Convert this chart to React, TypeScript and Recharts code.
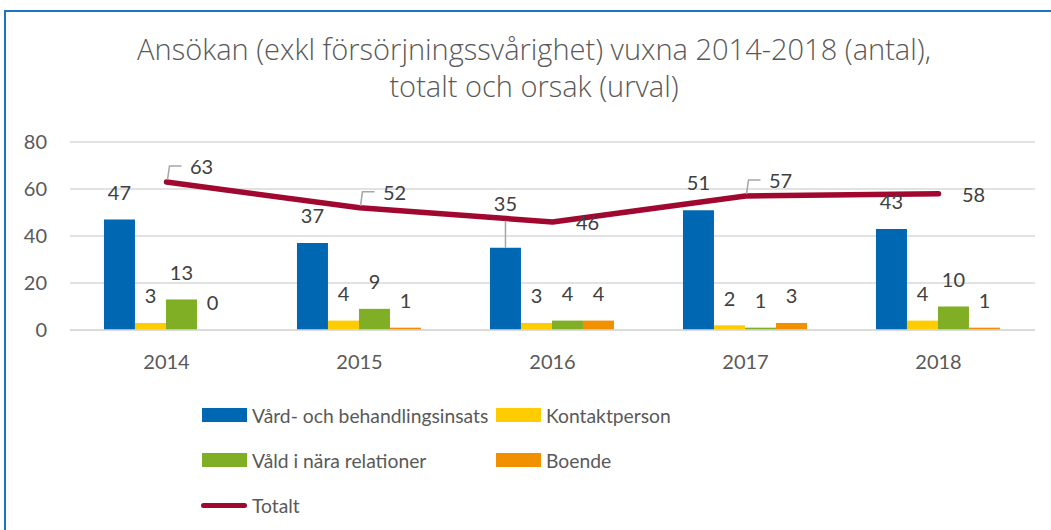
import React from 'react';
import { ComposedChart, Bar, Line, XAxis, YAxis, CartesianGrid, LabelList } from 'recharts';

// ---------- data ----------
const years = ['2014', '2015', '2016', '2017', '2018'];
const vardValues = [47, 37, 35, 51, 43];
const kontaktValues = [3, 4, 3, 2, 4];
const valdValues = [13, 9, 4, 1, 10];
const boendeValues = [0, 1, 4, 3, 1];
const totaltValues = [63, 52, 46, 57, 58];
const yTicks = [0, 20, 40, 60, 80];
const titleLines = [
  'Ansökan (exkl försörjningssvårighet) vuxna 2014-2018 (antal),',
  'totalt och orsak (urval)',
];
const seriesNames = {
  vard: 'Vård- och behandlingsinsats',
  kontakt: 'Kontaktperson',
  vald: 'Våld i nära relationer',
  boende: 'Boende',
  totalt: 'Totalt',
};

// ---------- styles ----------
const FONT = 'Lato, "Noto Sans", sans-serif';
const TITLE_FONT = '"Open Sans", "Noto Sans", sans-serif';
const COLORS = {
  vard: '#0067B2',
  kontakt: '#FFCC00',
  vald: '#80AF25',
  boende: '#F29100',
  totalt: '#A0082F',
};
const TEXT = '#595959';
const LABEL = '#404040';
const GRID = '#D9D9D9';
const LEADER = '#A6A6A6';

const data = years.map((year, i) => ({
  year,
  vard: vardValues[i],
  kontakt: kontaktValues[i],
  vald: valdValues[i],
  boende: boendeValues[i],
  totalt: totaltValues[i],
}));

// bar label: centered above bar; one label (2016 Vård) pulled up with leader line
const makeBarLabel = (key: string) => (props: any) => {
  const { x, y, width, value, index } = props;
  const cx = Number(x) + Number(width) / 2;
  const top = Number(y);
  const pulled = key === 'vard' && index === 2;
  const cy = top - 27 - (pulled ? 17 : 0);
  return (
    <g>
      {pulled && (
        <line x1={cx} y1={top} x2={cx} y2={cy + 17} stroke={LEADER} strokeWidth={1.5} />
      )}
      <text x={cx} y={cy} dy="0.36em" textAnchor="middle" fontFamily={FONT} fontSize={20} fill={LABEL}>
        {value}
      </text>
    </g>
  );
};

// line labels: to the right of the point; some raised with a bent leader line
const lineLabelRaised = [true, true, false, true, false];
const LineLabel = (props: any) => {
  const { x, y, value, index } = props;
  const px = Number(x);
  const py = Number(y);
  const raised = lineLabelRaised[index];
  const tx = px + 35;
  const ty = raised ? py - 15 : py + 1;
  return (
    <g>
      {raised && (
        <polyline
          points={`${px + 1},${py - 2} ${px + 3},${py - 16} ${px + 15},${py - 16}`}
          fill="none"
          stroke={LEADER}
          strokeWidth={1.5}
        />
      )}
      <text x={tx} y={ty} dy="0.36em" textAnchor="middle" fontFamily={FONT} fontSize={20} fill={LABEL}>
        {value}
      </text>
    </g>
  );
};

const legendRows = [
  [
    { key: 'vard', type: 'rect' },
    { key: 'kontakt', type: 'rect' },
  ],
  [
    { key: 'vald', type: 'rect' },
    { key: 'boende', type: 'rect' },
  ],
  [{ key: 'totalt', type: 'line' }],
];

// keep zero-value bars present (invisible) so their "0" label is drawn
const zeroKeep = (value: any) => (value === 0 ? 0.01 : 0);

export default function App() {
  return (
    <div style={{ position: 'absolute', left: 0, top: 0, width: 1051, height: 530, background: '#fff', overflow: 'hidden' }}>
      {/* frame */}
      <div
        style={{
          position: 'absolute',
          left: 4,
          top: 10,
          width: 1100,
          height: 600,
          borderTop: '2px solid #1C75BC',
          borderLeft: '2px solid #1C75BC',
        }}
      />
      {/* title */}
      <div
        style={{
          position: 'absolute',
          left: 34,
          width: 1000,
          top: 30,
          textAlign: 'center',
          fontFamily: TITLE_FONT,
          fontWeight: 300,
          fontSize: 29,
          lineHeight: '37px',
          color: TEXT,
          whiteSpace: 'nowrap',
        }}
      >
        {titleLines.map((t) => (
          <div key={t}>{t}</div>
        ))}
      </div>

      <div style={{ position: 'absolute', left: 0, top: 0 }}>
        <ComposedChart
          width={1051}
          height={530}
          data={data}
          margin={{ top: 142, right: 16, bottom: 170, left: 0 }}
          barCategoryGap="17.6%"
          barGap={0}
        >
          <CartesianGrid vertical={false} stroke={GRID} strokeWidth={1.5} />
          <XAxis
            dataKey="year"
            height={30}
            axisLine={{ stroke: GRID, strokeWidth: 1.5 }}
            tickLine={false}
            tickSize={0}
            tickMargin={25}
            tick={{ fill: TEXT, fontSize: 20, fontFamily: FONT }}
          />
          <YAxis
            width={70}
            domain={[0, 80]}
            ticks={yTicks}
            axisLine={false}
            tickLine={false}
            tickSize={0}
            tickMargin={23}
            tick={{ fill: TEXT, fontSize: 20, fontFamily: FONT }}
          />
          {(['vard', 'kontakt', 'vald', 'boende'] as const).map((k) => (
            <Bar
              key={k}
              dataKey={k}
              name={seriesNames[k]}
              fill={COLORS[k]}
              minPointSize={zeroKeep as any}
              isAnimationActive={false}
            >
              <LabelList dataKey={k} content={makeBarLabel(k)} />
            </Bar>
          ))}
          <Line
            dataKey="totalt"
            name={seriesNames.totalt}
            type="linear"
            stroke={COLORS.totalt}
            strokeWidth={5.5}
            strokeLinecap="round"
            strokeLinejoin="round"
            dot={false}
            activeDot={false}
            isAnimationActive={false}
          >
            <LabelList dataKey="totalt" content={LineLabel} />
          </Line>
        </ComposedChart>
      </div>

      {/* legend */}
      {legendRows.map((row, r) =>
        row.map((item, c) => {
          const top = 415 + r * 45;
          const left = c === 0 ? 202 : 496;
          const color = (COLORS as any)[item.key];
          return (
            <div key={item.key} style={{ position: 'absolute', left, top: top - 14, height: 28, display: 'flex', alignItems: 'center' }}>
              {item.type === 'rect' ? (
                <div style={{ width: 45, height: 14, background: color }} />
              ) : (
                <div style={{ width: 46, height: 5, background: color, borderRadius: 3, marginLeft: -1 }} />
              )}
              <span style={{ marginLeft: 5, fontFamily: FONT, fontSize: 19.3, color: TEXT, whiteSpace: 'nowrap' }}>
                {(seriesNames as any)[item.key]}
              </span>
            </div>
          );
        })
      )}
    </div>
  );
}
